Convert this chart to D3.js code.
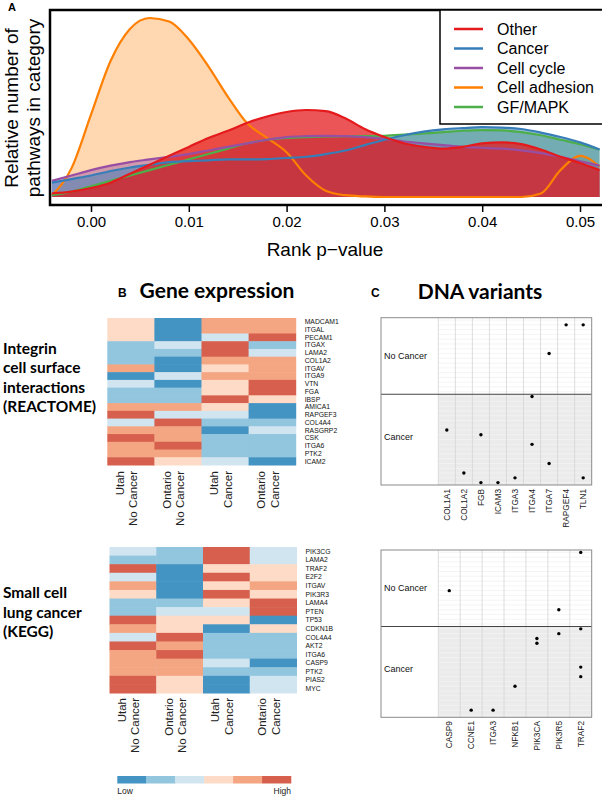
<!DOCTYPE html>
<html><head><meta charset="utf-8">
<script src="https://cdn.jsdelivr.net/npm/d3@7"></script>
<style>
body{margin:0;background:#fff}
svg{display:block}
text{font-family:"Liberation Sans",Arial,sans-serif}
.bold{font-family:Lato,"Open Sans",sans-serif;font-weight:700}
</style>
</head><body><svg id="c" width="602" height="797"></svg>
<script>
// ---------------- Panel A data ----------------
const pGrid = [-0.004,-0.002,0,0.002,0.004,0.006,0.008,0.010,0.012,0.014,0.016,0.018,0.020,0.022,0.024,0.026,0.028,0.030,0.032,0.034,0.036,0.038,0.040,0.042,0.044,0.046,0.048,0.050,0.052];
const densOther    = [0.02,0.03,0.05,0.08,0.13,0.18,0.23,0.28,0.33,0.37,0.415,0.45,0.475,0.486,0.48,0.44,0.38,0.335,0.30,0.28,0.27,0.28,0.30,0.305,0.295,0.265,0.225,0.19,0.15];
const densCancer   = [0.08,0.10,0.12,0.145,0.165,0.18,0.195,0.20,0.205,0.21,0.21,0.212,0.218,0.225,0.24,0.26,0.29,0.32,0.345,0.365,0.378,0.385,0.39,0.388,0.38,0.36,0.335,0.305,0.265];
const densCycle    = [0.09,0.12,0.15,0.175,0.195,0.21,0.225,0.24,0.26,0.28,0.30,0.32,0.335,0.34,0.342,0.34,0.335,0.325,0.31,0.30,0.29,0.28,0.275,0.27,0.26,0.245,0.225,0.20,0.175];
const densAdhesion = [0.01,0.16,0.46,0.76,0.94,1.00,0.98,0.88,0.73,0.56,0.41,0.33,0.25,0.12,0.035,0.01,0.003,0,0,0,0,0,0,0,0,0.02,0.15,0.23,0.17];
const densGF       = [0.01,0.03,0.06,0.09,0.12,0.15,0.18,0.21,0.24,0.27,0.30,0.32,0.33,0.335,0.338,0.34,0.34,0.342,0.348,0.355,0.362,0.37,0.374,0.372,0.362,0.345,0.32,0.295,0.265];
const seriesNames  = ["Other","Cancer","Cell cycle","Cell adhesion","GF/MAPK"];
const seriesColors = ["#e41a1c","#377eb8","#984ea3","#ff7f00","#4daf4a"];
const xTicks = [0,0.01,0.02,0.03,0.04,0.05];

// ---------------- Panel B data ----------------
const colGroups = ["Utah|No Cancer","Ontario|No Cancer","Utah|Cancer","Ontario|Cancer"];
const genes1 = ["MADCAM1","ITGAL","PECAM1","ITGAX","LAMA2","COL1A2","ITGAV","ITGA9","VTN","FGA","IBSP","AMICA1","RAPGEF3","COL4A4","RASGRP2","CSK","ITGA6","PTK2","ICAM2"];
const h1UtahNo    = [4,4,4,2,2,2,5,1,3,2,2,5,6,3,5,6,5,5,6];
const h1OntarioNo = [1,1,1,3,2,1,1,3,1,2,2,5,3,6,5,5,6,5,4];
const h1UtahCa    = [5,5,3,6,6,5,4,5,4,4,6,4,3,2,1,2,2,2,3];
const h1OntarioCa = [5,5,6,2,3,5,5,5,6,6,4,1,1,2,3,2,2,2,1];
const genes2 = ["PIK3CG","LAMA2","TRAF2","E2F2","ITGAV","PIK3R3","LAMA4","PTEN","TP53","CDKN1B","COL4A4","AKT2","ITGA6","CASP9","PTK2","PIAS2","MYC"];
const h2UtahNo    = [3,2,6,3,5,4,2,2,6,5,3,6,5,5,5,6,6];
const h2OntarioNo = [2,2,1,1,1,1,2,3,4,4,6,5,6,5,5,4,4];
const h2UtahCa    = [6,6,4,6,4,6,4,3,4,1,2,2,2,3,2,1,1];
const h2OntarioCa = [3,3,4,4,5,4,6,6,1,4,2,2,2,1,2,3,3];
const levelColors = ["#4393c3","#92c5de","#d1e5f0","#fddbc7","#f4a582","#d6604d"];
const legendLabels = ["Low","High"];

// ---------------- Panel C data ----------------
const varGenes1 = ["COL1A1","COL1A2","FGB","ICAM3","ITGA3","ITGA4","ITGA7","RAPGEF4","TLN1"];
const var1Gene   = ["RAPGEF4","TLN1","ITGA7","ITGA4","COL1A1","FGB","ITGA4","ITGA7","COL1A2","ITGA3","TLN1","FGB","ICAM3"];
const var1Sample = [33,33,27,18,11,10,8,4,2,1,1,0,0];
const varGenes2 = ["CASP9","CCNE1","ITGA3","NFKB1","PIK3CA","PIK3R5","TRAF2"];
const var2Gene   = ["TRAF2","CASP9","PIK3R5","TRAF2","PIK3R5","PIK3CA","PIK3CA","TRAF2","TRAF2","NFKB1","CCNE1","ITGA3"];
const var2Sample = [34,26,22,18,17,16,15,10,8,6,1,1];
const nCancer = 19, nNoCancer = 16;

const svg = d3.select("#c");

// ================= Panel A =================
const A = {l:50, r:602, t:10, b:205};
const xA = d3.scaleLinear().domain([0,0.05]).range([91,580]);
const yA = d3.scaleLinear().domain([0,1]).range([197,18]);
svg.append("clipPath").attr("id","clipA").append("rect")
  .attr("x",A.l).attr("y",A.t).attr("width",A.r-A.l).attr("height",A.b-A.t);
const gA = svg.append("g").attr("clip-path","url(#clipA)");
const dens = [densOther,densCancer,densCycle,densAdhesion,densGF];
const order = [3,4,2,1,0];
const area = d3.area().x((d,i)=>xA(pGrid[i])).y0(yA(0)).y1(d=>yA(d)).curve(d3.curveMonotoneX);
const line = d3.line().x((d,i)=>xA(pGrid[i])).y(d=>yA(d)).curve(d3.curveMonotoneX);
const fillOp = [0.74,0.5,0.45,0.3,0.45];
order.forEach(k=>{
  gA.append("path").attr("d",area(dens[k])).attr("fill",seriesColors[k]).attr("fill-opacity",fillOp[k]);
});
order.forEach(k=>{
  gA.append("path").attr("d",line(dens[k])).attr("fill","none").attr("stroke",seriesColors[k]).attr("stroke-width",2.2);
});
svg.append("rect").attr("x",A.l).attr("y",A.t).attr("width",A.r-A.l+5).attr("height",A.b-A.t)
  .attr("fill","none").attr("stroke","#000").attr("stroke-width",2.5);
const axA = svg.append("g").attr("transform",`translate(0,${A.b})`)
  .call(d3.axisBottom(xA).tickValues(xTicks).tickFormat(d3.format(".2f")).tickSize(7).tickPadding(4));
axA.select(".domain").remove();
axA.selectAll("line").attr("stroke","#000").attr("stroke-width",1.5);
axA.selectAll("text").attr("font-size",15).attr("fill","#000").attr("font-family","'Liberation Sans',Arial,sans-serif");
svg.append("text").attr("x",325).attr("y",256).attr("text-anchor","middle").attr("font-size",19).text("Rank p\u2212value");
svg.append("text").attr("transform","translate(18,108) rotate(-90)").attr("text-anchor","middle").attr("font-size",19).text("Relative number of");
svg.append("text").attr("transform","translate(40,108) rotate(-90)").attr("text-anchor","middle").attr("font-size",19).text("pathways in category");
svg.append("text").attr("x",8).attr("y",11).attr("font-size",11).attr("font-weight","bold").text("A");
svg.append("rect").attr("x",440).attr("y",A.t).attr("width",170).attr("height",114).attr("fill","#fff").attr("stroke","#000").attr("stroke-width",1.5);
const legY = d3.scalePoint().domain(seriesNames).range([29,107]);
seriesNames.forEach((n,i)=>{
  svg.append("line").attr("x1",454).attr("x2",483).attr("y1",legY(n)).attr("y2",legY(n)).attr("stroke",seriesColors[i]).attr("stroke-width",2.5);
  svg.append("text").attr("x",497).attr("y",legY(n)).attr("dy","0.36em").attr("font-size",16).text(n);
});

// ================= Panel B =================
svg.append("text").attr("x",118).attr("y",297).attr("font-size",12).attr("font-weight","bold").text("B");
svg.append("text").attr("class","bold").attr("x",217).attr("y",298).attr("text-anchor","middle").attr("font-size",21).text("Gene expression");

function heatmap(genes, cols, x0, x1, y0, y1, labY){
  const xb = d3.scaleBand().domain(colGroups).range([x0,x1]);
  const yb = d3.scaleBand().domain(genes).range([y0,y1]);
  const g = svg.append("g");
  cols.forEach((vals,ci)=>{
    vals.forEach((v,ri)=>{
      g.append("rect").attr("x",xb(colGroups[ci])).attr("y",yb(genes[ri]))
        .attr("width",xb.bandwidth()+0.5).attr("height",yb.bandwidth()+0.5).attr("fill",levelColors[v-1]);
    });
  });
  genes.forEach(gn=>{
    g.append("text").attr("x",x1+9).attr("y",yb(gn)+yb.bandwidth()/2).attr("dy","0.35em")
      .attr("font-size",6.8).attr("fill","#111").text(gn);
  });
  colGroups.forEach(cg=>{
    const [a,b] = cg.split("|");
    const cx = xb(cg)+xb.bandwidth()/2;
    g.append("text").attr("transform",`translate(${cx-7},${labY}) rotate(-90)`).attr("text-anchor","end").attr("font-size",11.5).attr("fill","#222").text(a);
    g.append("text").attr("transform",`translate(${cx+6.5},${labY}) rotate(-90)`).attr("text-anchor","end").attr("font-size",11.5).attr("fill","#222").text(b);
  });
}
heatmap(genes1,[h1UtahNo,h1OntarioNo,h1UtahCa,h1OntarioCa],107.3,295.7,318,465,471);
heatmap(genes2,[h2UtahNo,h2OntarioNo,h2UtahCa,h2OntarioCa],109.5,296.5,547,693,698);

const leftText1 = ["Integrin","cell surface","interactions","(REACTOME)"];
const leftText2 = ["Small cell","lung cancer","(KEGG)"];
leftText1.forEach((t,i)=>svg.append("text").attr("class","bold").attr("x",3).attr("y",354+i*19.3).attr("font-size",15.5).text(t));
leftText2.forEach((t,i)=>svg.append("text").attr("class","bold").attr("x",3).attr("y",598+i*19.5).attr("font-size",15.5).text(t));

const legX = d3.scaleBand().domain(levelColors).range([117.3,291]);
levelColors.forEach(c=>svg.append("rect").attr("x",legX(c)).attr("y",776).attr("width",legX.bandwidth()+0.3).attr("height",7.5).attr("fill",c));
svg.append("text").attr("x",117.3).attr("y",794).attr("font-size",8.5).attr("fill","#222").text(legendLabels[0]);
svg.append("text").attr("x",291).attr("y",794).attr("text-anchor","end").attr("font-size",8.5).attr("fill","#222").text(legendLabels[1]);

// ================= Panel C =================
svg.append("text").attr("x",371).attr("y",297).attr("font-size",12).attr("font-weight","bold").text("C");
svg.append("text").attr("class","bold").attr("x",480).attr("y",299).attr("text-anchor","middle").attr("font-size",21).text("DNA variants");

function dotPanel(geneList, vGene, vSample, top, bottom, labY){
  const L=381, R=591.7, G=438.3;
  const xb = d3.scaleBand().domain(geneList).range([G,R]);
  const ys = d3.scaleLinear().domain([-0.5, nCancer+nNoCancer-0.5]).range([bottom,top]);
  const divY = ys(nCancer-0.5);
  const g = svg.append("g");
  g.append("rect").attr("x",L).attr("y",top).attr("width",R-L).attr("height",bottom-top).attr("fill","#fff");
  g.append("rect").attr("x",G).attr("y",divY).attr("width",R-G).attr("height",bottom-divY).attr("fill","#ebebeb");
  d3.range(nCancer+nNoCancer).forEach(s=>{
    g.append("line").attr("x1",G).attr("x2",R).attr("y1",ys(s)).attr("y2",ys(s))
      .attr("stroke", s<nCancer ? "#f6f6f6" : "#ececec").attr("stroke-width",0.6);
  });
  geneList.forEach(gn=>{
    g.append("line").attr("x1",xb(gn)).attr("x2",xb(gn)).attr("y1",top).attr("y2",bottom).attr("stroke","#d4d4d4").attr("stroke-width",0.8);
  });
  g.append("line").attr("x1",L).attr("x2",R).attr("y1",divY).attr("y2",divY).attr("stroke","#444").attr("stroke-width",1.1);
  g.append("rect").attr("x",L).attr("y",top).attr("width",R-L).attr("height",bottom-top).attr("fill","none").attr("stroke","#8a8a8a").attr("stroke-width",1);
  vGene.forEach((gn,i)=>{
    g.append("circle").attr("cx",xb(gn)+xb.bandwidth()/2).attr("cy",ys(vSample[i])).attr("r",1.7).attr("fill","#000");
  });
  g.append("text").attr("x",384).attr("y",(top+divY)/2).attr("dy","0.35em").attr("font-size",9).attr("fill","#111").text("No Cancer");
  g.append("text").attr("x",384).attr("y",(divY+bottom)/2-3).attr("dy","0.35em").attr("font-size",9).attr("fill","#111").text("Cancer");
  geneList.forEach(gn=>{
    g.append("text").attr("transform",`translate(${xb(gn)+xb.bandwidth()/2+3},${labY}) rotate(-90)`).attr("text-anchor","end")
      .attr("font-size",8.3).attr("fill","#222").text(gn);
  });
}
dotPanel(varGenes1,var1Gene,var1Sample,317.7,485,489);
dotPanel(varGenes2,var2Gene,var2Sample,550,717.3,721);
</script>
</body></html>
